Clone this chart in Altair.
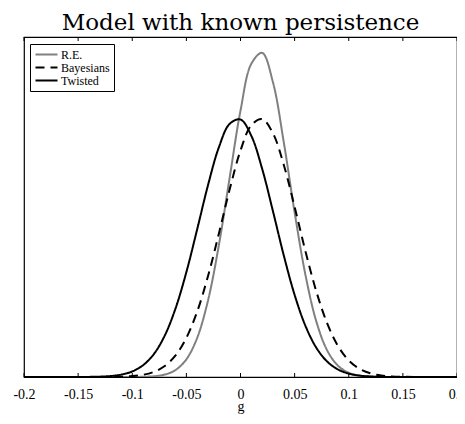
import altair as alt
import pandas as pd

# x grid (g)
g = [round(-0.20 + 0.01 * i, 2) for i in range(41)]

series_names = ["R.E.", "Bayesians", "Twisted"]

re_vals = [0, 0, 0, 0, 0, 0, 0, 0, 0, 0.0005,
           0.002, 0.009, 0.033, 0.108, 0.309, 0.780, 1.730, 3.380, 5.811, 8.798,
           11.75, 13.82, 14.30, 13.00, 10.35, 7.266, 4.503, 2.457, 1.180, 0.500,
           0.186, 0.061, 0.018, 0.004, 0.001,
           0, 0, 0, 0, 0, 0]

bay_vals = [0, 0, 0, 0, 0, 0, 0, 0.0015,
            0.005, 0.014, 0.039, 0.098, 0.226, 0.483, 0.952, 1.727, 2.889, 4.453,
            6.324, 8.278, 9.989, 11.11, 11.38, 10.75, 9.356, 7.506, 5.550, 3.780,
            2.375, 1.374, 0.732, 0.360, 0.163, 0.068, 0.026, 0.009, 0.003, 0.001,
            0, 0, 0]

tw_vals = [0, 0, 0, 0, 0.0003,
           0.0017, 0.005, 0.016, 0.043, 0.107, 0.245, 0.519, 1.013, 1.825, 3.027,
           4.627, 6.521, 8.467, 10.13, 11.17, 11.36, 10.64, 9.186, 7.309, 5.359,
           3.621, 2.256, 1.295, 0.685, 0.334, 0.150, 0.062, 0.024, 0.008, 0.003,
           0.001,
           0, 0, 0, 0, 0]

tick_values = [-0.2, -0.15, -0.1, -0.05, 0, 0.05, 0.1, 0.15, 0.2]

rows = []
for name, vals in zip(series_names, [re_vals, bay_vals, tw_vals]):
    for x, y in zip(g, vals):
        rows.append({"g": x, "density": y, "series": name})
df = pd.DataFrame(rows)
ticks_df = pd.DataFrame({"t": tick_values})

x_scale = alt.Scale(domain=[-0.2, 0.2], nice=False, zero=False)
y_scale = alt.Scale(domain=[0, 15], nice=False, zero=True)

legend_kw = dict(title=None, orient="none", legendX=6, legendY=7,
                 symbolType="M-2,0H2", symbolSize=121, symbolStrokeWidth=2,
                 symbolOffset=6,
                 strokeColor="black", fillColor="white", padding=4,
                 labelFont="Liberation Serif", labelFontSize=12,
                 labelColor="black", rowPadding=-1, labelOffset=8,
                 cornerRadius=0)

lines = alt.Chart(df).mark_line(strokeWidth=2, interpolate="catmull-rom", clip=True).encode(
    x=alt.X("g:Q", scale=x_scale,
            axis=alt.Axis(values=tick_values, title="g", ticks=False, domain=False,
                          grid=False, labelExpr="'' + datum.value", labelPadding=10,
                          titlePadding=-2, labelFlush=False)),
    y=alt.Y("density:Q", scale=y_scale, axis=None),
    color=alt.Color("series:N",
                    scale=alt.Scale(domain=series_names, range=["#808080", "#000000", "#000000"]),
                    legend=alt.Legend(**legend_kw)),
    strokeDash=alt.StrokeDash("series:N",
                              scale=alt.Scale(domain=series_names, range=[[1, 0], [9, 6], [1, 0]]),
                              legend=alt.Legend(**legend_kw)),
)

bottom_ticks = alt.Chart(ticks_df).mark_rule(color="black", strokeWidth=1).encode(
    x=alt.X("t:Q", scale=x_scale), y=alt.value(340), y2=alt.value(336))
top_ticks = alt.Chart(ticks_df).mark_rule(color="black", strokeWidth=1).encode(
    x=alt.X("t:Q", scale=x_scale), y=alt.value(0), y2=alt.value(4))

chart = alt.layer(lines, bottom_ticks, top_ticks).properties(
    width=433, height=340,
    background="white",
    title=alt.TitleParams("Model with known persistence", font="DejaVu Serif",
                          fontSize=23, fontWeight="normal", color="black",
                          anchor="middle", baseline="bottom", offset=6, dy=27),
    autosize=alt.AutoSizeParams(type="none"),
    padding={"left": 16, "top": 29, "right": 0, "bottom": 39},
).configure_view(stroke="black", strokeWidth=1.2).configure_axis(
    labelFont="Liberation Serif", labelFontSize=14, labelColor="black",
    titleFont="Liberation Serif", titleFontSize=14, titleFontWeight="normal", titleColor="black",
)

chart.save("out.html", embed_options={"renderer": "svg", "actions": False})
